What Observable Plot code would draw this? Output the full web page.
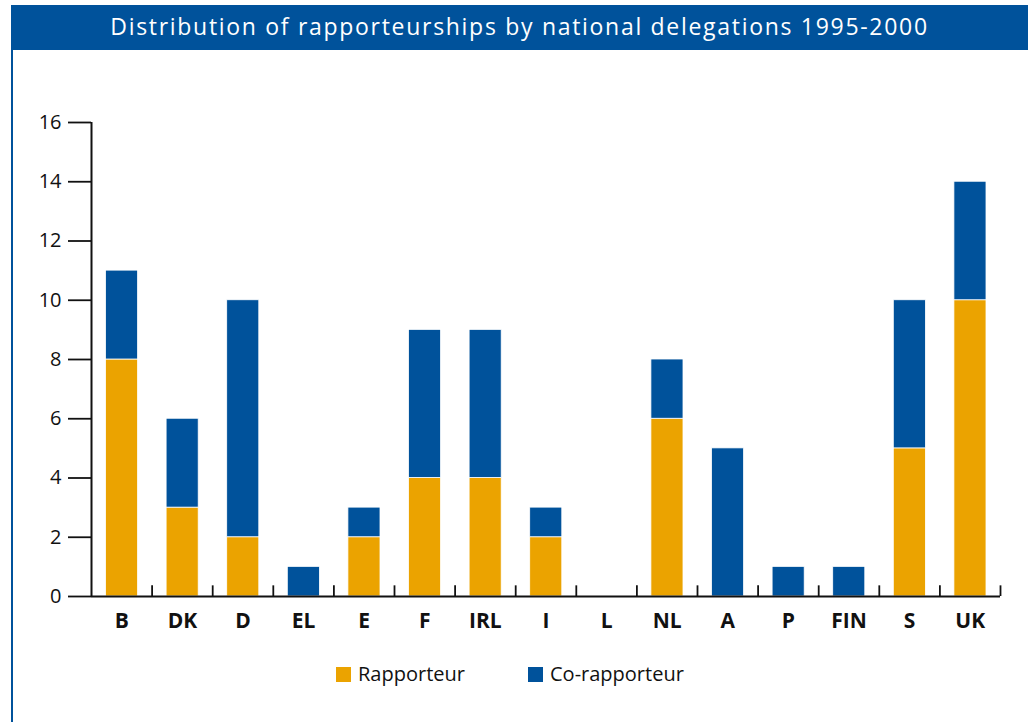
<!DOCTYPE html>
<html>
<head>
<meta charset="utf-8">
<script src="https://cdn.jsdelivr.net/npm/d3@7"></script>
<script src="https://cdn.jsdelivr.net/npm/@observablehq/plot@0.6"></script>
<style>
  html, body { margin: 0; padding: 0; background: white; }
  #wrap { position: relative; width: 1028px; height: 722px; overflow: hidden; font-family: "Open Sans", sans-serif; }
  #chart { position: absolute; left: 0; top: 0; }
  #title { position: absolute; left: 11px; top: 5px; width: 1017px; height: 45px; background: #00529B; color: #fff;
    font-family: "Open Sans", sans-serif; font-size: 23px; letter-spacing: 1.7px; line-height: 43px; text-align: center; }
  #border { position: absolute; left: 11px; top: 50px; width: 2px; height: 672px; background: #00529B; }
  .lg { position: absolute; top: 661px; font-size: 20px; color: #111; line-height: 26px; display: flex; align-items: center; }
  .sw { width: 15px; height: 15px; margin-right: 7px; }
</style>
</head>
<body>
<div id="wrap">
  <div id="chart"></div>
  <div id="title">Distribution of rapporteurships by national delegations 1995-2000</div>
  <div id="border"></div>
  <div class="lg" style="left:336px"><div class="sw" style="background:#EBA300"></div>Rapporteur</div>
  <div class="lg" style="left:528px"><div class="sw" style="background:#00529B"></div>Co-rapporteur</div>
</div>
<script>
const categories = ["B", "DK", "D", "EL", "E", "F", "IRL", "I", "L", "NL", "A", "P", "FIN", "S", "UK"];
const rapporteur = [8, 3, 2, 0, 2, 4, 4, 2, 0, 6, 0, 0, 0, 5, 10];
const coRapporteur = [3, 3, 8, 1, 1, 5, 5, 1, 0, 2, 5, 1, 1, 5, 4];
const seriesNames = ["Rapporteur", "Co-rapporteur"];
const seriesColors = ["#EBA300", "#00529B"];
const yTicks = [0, 2, 4, 6, 8, 10, 12, 14, 16];

const data = [];
categories.forEach((c, i) => {
  data.push({cat: c, idx: i, series: seriesNames[0], value: rapporteur[i]});
  data.push({cat: c, idx: i, series: seriesNames[1], value: coRapporteur[i]});
});
const boundaries = d3.range(1, categories.length + 1);

const plot = Plot.plot({
  width: 1028,
  height: 650,
  marginTop: 122,
  marginBottom: 54,
  marginLeft: 91,
  marginRight: 28,
  style: {fontFamily: "Open Sans, sans-serif", background: "transparent", color: "#111"},
  x: {domain: [0, categories.length], axis: null},
  y: {domain: [0, 16], axis: null, label: null},
  color: {domain: seriesNames, range: seriesColors},
  marks: [
    Plot.rectY(data.filter(d => d.value > 0), Plot.stackY({
      x1: "idx", x2: d => d.idx + 1, y: "value", fill: "series", order: seriesNames,
      insetLeft: 14.5, insetRight: 14, stroke: "white", strokeWidth: 0.8
    })),
    Plot.axisY({ticks: yTicks, label: null, tickSize: 23, tickPadding: 7, fontSize: 20, strokeWidth: 1.8, stroke: "#111", tickFormat: d => d}),
    Plot.ruleX([0], {y1: 0, y2: 16, stroke: "#111", strokeWidth: 2}),
    Plot.ruleY([0], {stroke: "#111", strokeWidth: 2}),
    Plot.ruleX(boundaries, {y1: 0, y2: 0.36, stroke: "#111", strokeWidth: 1.8}),
    Plot.text(categories, {x: (d, i) => i + 0.5, y: 0, text: d => d, dy: 25, fontSize: 21, fontWeight: "bold", fill: "#111", lineAnchor: "middle"})
  ]
});
document.getElementById("chart").appendChild(plot);
</script>
</body>
</html>
